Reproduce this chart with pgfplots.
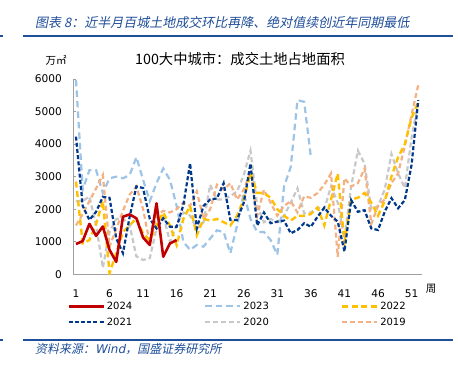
\documentclass[border=0pt]{standalone}
\usepackage{pgfplots}
\pgfplotsset{compat=1.18}
\usepackage{pgfplotstable}
\usepackage{fontspec}
\setmainfont{DejaVu Sans}
\newfontfamily\cjk{Noto Sans CJK SC}
\newfontfamily\cjkit{Noto Sans CJK SC}[FakeSlant=0.2]
\definecolor{c24}{RGB}{192,0,0}
\definecolor{c23}{RGB}{157,195,230}
\definecolor{c22}{RGB}{255,192,0}
\definecolor{c21}{RGB}{0,56,140}
\definecolor{c20}{RGB}{200,200,200}
\definecolor{c19}{RGB}{244,177,131}
\definecolor{capblue}{RGB}{31,78,154}
\definecolor{axgray}{RGB}{160,160,160}

\pgfplotstableread{
week y2024 y2023 y2022 y2021 y2020 y2019
1 930 5970 2850 4230 2250 1500
2 1020 2600 950 2100 2250 1850
3 1550 3200 1050 1670 2390 2250
4 1180 3200 1550 1920 1500 2640
5 1470 2500 2250 2380 200 3050
6 750 2950 30 2350 1300 850
7 380 3000 650 1100 1700 1400
8 1770 2950 1300 650 1720 1950
9 1840 3050 1500 1770 1500 2450
10 1720 3600 1720 2700 550 2700
11 1130 2900 1250 2650 440 2000
12 900 2250 1050 1700 500 950
13 2180 2800 1500 1410 1410 1800
14 540 3250 1900 1720 1820 1950
15 950 2900 1500 1460 1000 1900
16 1050 2100 900 1460 1500 2000
17 nan 1000 1700 2130 1900 2200
18 nan 750 2100 3410 1800 2100
19 nan 900 1200 1410 1400 2550
20 nan 850 1700 2100 1600 1700
21 nan 1100 1650 2300 2750 2000
22 nan 1350 1700 2330 2300 2750
23 nan 1300 1600 2800 2300 2600
24 nan 650 1500 1670 2400 2800
25 nan 1500 1800 1670 2550 2300
26 nan 2500 2300 2200 3050 2600
27 nan 1700 3100 3400 3800 3150
28 nan 1300 2500 1500 2100 1800
29 nan 1300 2500 1900 1600 2600
30 nan 1050 2350 1570 1700 2200
31 nan 600 2000 1620 1600 1800
32 nan 2700 1800 1650 1800 2100
33 nan 3300 1650 1260 2200 2250
34 nan 5350 1800 1360 2640 1900
35 nan 5300 1800 1570 1870 2400
36 nan 3600 1850 1460 1900 2350
37 nan nan 2050 1770 2050 2500
38 nan nan 1500 2050 2000 2750
39 nan nan 2300 1800 2700 3100
40 nan nan 3100 1620 2200 540
41 nan nan 1000 700 1100 2950
42 nan nan 2300 2280 2700 2700
43 nan nan 2350 1920 3800 2800
44 nan nan 2500 1970 3400 3250
45 nan nan 2200 1410 2000 1550
46 nan nan 1800 1360 2100 2100
47 nan nan 2250 1920 2600 2300
48 nan nan 3000 2340 3700 2800
49 nan nan 3600 2030 3100 3100
50 nan nan 4000 2280 2650 3950
51 nan nan 4800 3360 4200 4900
52 nan nan 5300 5350 5300 5820
}\datatable

\tikzset{
  s24/.style={color=c24, line width=2.6bp, solid, line join=round},
  s23/.style={color=c23, line width=2.2bp, dash pattern=on 6.5bp off 4bp},
  s22/.style={color=c22, line width=2.4bp, dash pattern=on 6bp off 3.5bp},
  s21/.style={color=c21, line width=2.2bp, dash pattern=on 4bp off 2.2bp},
  s20/.style={color=c20, line width=2.2bp, dash pattern=on 5bp off 3bp},
  s19/.style={color=c19, line width=2.2bp, dash pattern=on 5bp off 3bp},
}

\begin{document}
\begin{tikzpicture}
\path[use as bounding box] (0,0) rectangle (458bp,368bp);
% caption
\node[anchor=west, inner sep=0, text=capblue, font=\cjkit\fontsize{13bp}{15bp}\selectfont] at (35bp,345.3bp) {图表 8：近半月百城土地成交环比再降、绝对值续创近年同期最低};
\draw[capblue, line width=1.3bp] (23bp,332bp) -- (453bp,332bp);
\draw[capblue, line width=1.3bp] (0bp,332bp) -- (3bp,332bp);
% title
\node[font=\cjk\fontsize{14.3bp}{16bp}\selectfont, inner sep=0] at (240bp,309bp) {100大中城市：成交土地占地面积};
\node[font=\cjk\fontsize{10.5bp}{12bp}\selectfont, inner sep=0] at (56bp,308bp) {万㎡};
\node[font=\cjk\fontsize{10.5bp}{12bp}\selectfont, inner sep=0] at (431bp,79bp) {周};

\begin{axis}[
  at={(73.3bp,93.7bp)}, anchor=south west, scale only axis,
  width=349bp, height=195.3bp,
  xmin=0.6, xmax=52.6, ymin=0, ymax=6000,
  xtick={1,6,...,51}, ytick={0,1000,...,6000},
  axis lines=left,
  axis line style={-, draw=axgray, line width=0.8bp},
  x tick style={draw=none},
  y tick style={draw=axgray, line width=0.8bp},
  tick align=inside, major tick length=2.5bp,
  ticklabel style={font=\fontsize{10.6bp}{12bp}\selectfont, text=black},
  xticklabel style={yshift=-11.5bp},
  yticklabel style={xshift=-8bp},
  /pgf/number format/assume math mode=true,
  /pgf/number format/1000 sep={},
  scaled y ticks=false,
  unbounded coords=jump,
  legend columns=3,
  legend cell align=left,
  legend image code/.code={\draw[#1] (0bp,0bp) -- (35bp,0bp);},
  legend style={at={(axis description cs:-0.018,-0.13)}, anchor=north west,
    draw=none, fill=none, inner sep=0pt,
    font=\fontsize{10bp}{12bp}\selectfont,
    /tikz/every even column/.append style={column sep=70bp},
    row sep=3bp},
]
\addlegendimage{s24}\addlegendentry{2024}
\addlegendimage{s23}\addlegendentry{2023}
\addlegendimage{s22}\addlegendentry{2022}
\addlegendimage{s21}\addlegendentry{2021}
\addlegendimage{s20}\addlegendentry{2020}
\addlegendimage{s19}\addlegendentry{2019}

\addplot[s23, forget plot] table[x=week, y=y2023] {\datatable};
\addplot[s20, forget plot] table[x=week, y=y2020] {\datatable};
\addplot[s19, forget plot] table[x=week, y=y2019] {\datatable};
\addplot[s22, forget plot] table[x=week, y=y2022] {\datatable};
\addplot[s21, forget plot] table[x=week, y=y2021] {\datatable};
\addplot[s24, forget plot] table[x=week, y=y2024] {\datatable};
\end{axis}

% bottom rule and source
\draw[capblue, line width=1.3bp] (23bp,28bp) -- (453bp,28bp);
\draw[capblue, line width=1.3bp] (0bp,28bp) -- (3bp,28bp);
\node[anchor=west, inner sep=0, text=capblue, font=\cjkit\fontsize{12bp}{14bp}\selectfont] at (35bp,19bp) {资料来源：{\fontspec{DejaVu Sans}[FakeSlant=0.2]Wind}，国盛证券研究所};
\end{tikzpicture}
\end{document}
